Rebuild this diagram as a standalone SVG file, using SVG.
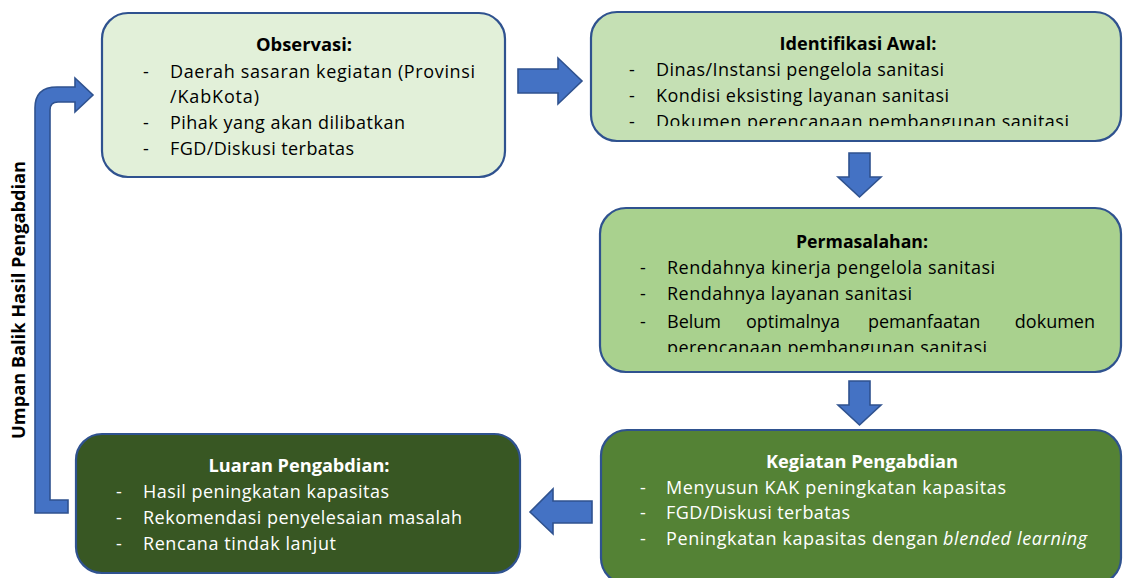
<svg xmlns="http://www.w3.org/2000/svg" width="1123" height="578" viewBox="0 0 1123 578">
<style>
.box{stroke:#2F528F;stroke-width:2.2}
.arr{fill:#4472C4;stroke:#2F528F;stroke-width:1.6;stroke-linejoin:miter}
text{font-family:"Open Sans","Liberation Sans",sans-serif;font-size:18px}
.t{font-weight:bold;text-anchor:middle}
.dk{fill:#000}
.wh{fill:#fff}
</style>
<defs>
<clipPath id="clipIdent"><rect x="591" y="10" width="532" height="116"/></clipPath>
<clipPath id="clipPerm"><rect x="600" y="206" width="523" height="146"/></clipPath>
</defs>
<rect width="1123" height="578" fill="#fff"/>

<g id="connectors">
<path class="arr" d="M518,69 H558 V58 L582,81 L558,104 V93 H518 Z"/>
<path class="arr" d="M849,153 H870 V177 H881 L859.5,197 L838,177 H849 Z"/>
<path class="arr" d="M849,381 H870 V405 H881 L859.5,425 L838,405 H849 Z"/>
<path class="arr" d="M592,501 H553 V489 L530,512 L553,534 V523 H592 Z"/>
<path class="arr" d="M35,513 V108 Q35,87 57,87 H75 V78 L93,95 L75,112 V102 H58 Q50,102 50,110 V500 H68 V513 Z"/>
<text class="dk" font-weight="bold" font-size="16.5" text-anchor="middle" transform="translate(25,300) rotate(-90)" textLength="278" lengthAdjust="spacingAndGlyphs">Umpan Balik Hasil Pengabdian</text>
</g>

<g id="observasi">
<rect class="box" x="102" y="13" width="403" height="164" rx="26" fill="#E2F0D9"/>
<text class="t dk" x="304" y="51" textLength="96" lengthAdjust="spacingAndGlyphs">Observasi:</text>
<text class="dk" x="143" y="78">-</text><text class="dk" x="170" y="78" textLength="305">Daerah sasaran kegiatan (Provinsi</text>
<text class="dk" x="170" y="103" textLength="89">/KabKota)</text>
<text class="dk" x="143" y="129">-</text><text class="dk" x="170" y="129" textLength="235">Pihak yang akan dilibatkan</text>
<text class="dk" x="143" y="155">-</text><text class="dk" x="170" y="155" textLength="184">FGD/Diskusi terbatas</text>
</g>

<g id="identifikasi">
<rect class="box" x="591" y="12" width="530" height="129" rx="26" fill="#C5E0B4"/>
<text class="t dk" x="858" y="50" textLength="157" lengthAdjust="spacingAndGlyphs">Identifikasi Awal:</text>
<text class="dk" x="629" y="76">-</text><text class="dk" x="656" y="76" textLength="288">Dinas/Instansi pengelola sanitasi</text>
<text class="dk" x="629" y="102">-</text><text class="dk" x="656" y="102" textLength="293">Kondisi eksisting layanan sanitasi</text>
<g clip-path="url(#clipIdent)">
<text class="dk" x="629" y="128">-</text><text class="dk" x="656" y="128" textLength="413">Dokumen perencanaan pembangunan sanitasi</text>
</g>
</g>

<g id="permasalahan">
<rect class="box" x="600" y="208" width="521" height="164" rx="26" fill="#A9D18E"/>
<text class="t dk" x="862" y="248" textLength="132" lengthAdjust="spacingAndGlyphs">Permasalahan:</text>
<text class="dk" x="640" y="274">-</text><text class="dk" x="667" y="274" textLength="328">Rendahnya kinerja pengelola sanitasi</text>
<text class="dk" x="640" y="300">-</text><text class="dk" x="667" y="300" textLength="245">Rendahnya layanan sanitasi</text>
<text class="dk" x="640" y="328">-</text>
<text class="dk" x="667" y="328">Belum</text>
<text class="dk" x="746" y="328">optimalnya</text>
<text class="dk" x="868" y="328">pemanfaatan</text>
<text class="dk" x="1095" y="328" text-anchor="end">dokumen</text>
<g clip-path="url(#clipPerm)">
<text class="dk" x="667" y="354" textLength="320">perencanaan pembangunan sanitasi</text>
</g>
</g>

<g id="kegiatan">
<rect class="box" x="601" y="430" width="520" height="154" rx="26" fill="#548235"/>
<text class="t wh" x="862" y="468" textLength="192" lengthAdjust="spacingAndGlyphs">Kegiatan Pengabdian</text>
<text class="wh" x="640" y="494">-</text><text class="wh" x="666" y="494" textLength="340">Menyusun KAK peningkatan kapasitas</text>
<text class="wh" x="640" y="519">-</text><text class="wh" x="666" y="519" textLength="184">FGD/Diskusi terbatas</text>
<text class="wh" x="640" y="545">-</text><text class="wh" x="666" y="545" textLength="272">Peningkatan kapasitas dengan</text><text class="wh" x="943" y="545" font-style="italic" textLength="144">blended learning</text>
</g>

<g id="luaran">
<rect class="box" x="76" y="434" width="444" height="139" rx="26" fill="#385723"/>
<text class="t wh" x="299" y="472" textLength="181" lengthAdjust="spacingAndGlyphs">Luaran Pengabdian:</text>
<text class="wh" x="116" y="498">-</text><text class="wh" x="143" y="498" textLength="246">Hasil peningkatan kapasitas</text>
<text class="wh" x="116" y="524">-</text><text class="wh" x="143" y="524" textLength="319">Rekomendasi penyelesaian masalah</text>
<text class="wh" x="116" y="550">-</text><text class="wh" x="143" y="550" textLength="193">Rencana tindak lanjut</text>
</g>
</svg>
